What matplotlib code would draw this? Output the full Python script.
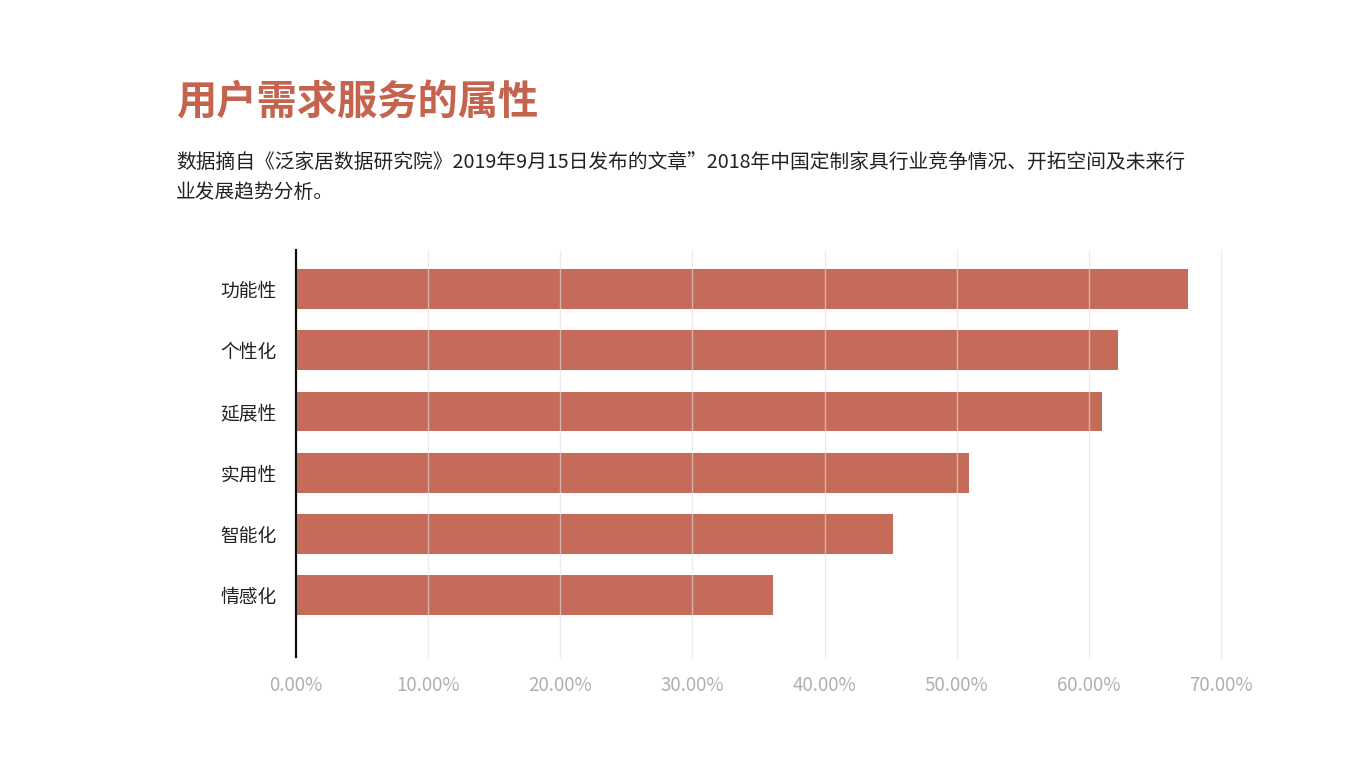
import matplotlib.pyplot as plt
from matplotlib.ticker import PercentFormatter

plt.rcParams['font.family'] = ['Noto Sans CJK SC', 'DejaVu Sans']

categories = ["功能性", "个性化", "延展性", "实用性", "智能化", "情感化"]
values = [0.675, 0.622, 0.610, 0.509, 0.452, 0.361]
xticks = [0, 0.1, 0.2, 0.3, 0.4, 0.5, 0.6, 0.7]

title = "用户需求服务的属性"
subtitle = ("数据摘自《泛家居数据研究院》2019年9月15日发布的文章”2018年中国定制家具行业竞争情况、开拓空间及未来行\n"
            "业发展趋势分析。")

fig = plt.figure(figsize=(13.66, 7.68), dpi=100)
ax = fig.add_axes([296 / 1366, 1 - 657 / 768, (1221 - 296) / 1366, (657 - 250) / 768])

ypos = list(range(len(categories)))[::-1]
ax.barh(ypos, values, height=0.65, color="#c46b59", zorder=1)

ax.set_xlim(0, 0.7)
ax.set_ylim(-1.01, 5.64)
ax.set_xticks(xticks)
ax.xaxis.set_major_formatter(PercentFormatter(1.0, decimals=2))
ax.set_yticks(ypos)
ax.set_yticklabels(categories)

ax.grid(axis="x", color="#e2e2e2", linewidth=1, alpha=0.6, zorder=2)
for gl in ax.get_xgridlines():
    gl.set_clip_on(False)
ax.set_axisbelow(False)
for s in ["top", "right", "bottom"]:
    ax.spines[s].set_visible(False)
ax.spines["left"].set_color("#111111")
ax.spines["left"].set_linewidth(1.6)
ax.spines["left"].set_zorder(3)

ax.tick_params(axis="x", length=0, pad=13, labelsize=13.5, labelcolor="#b0b0b0")
ax.tick_params(axis="y", length=0, pad=14, labelsize=13.5, labelcolor="#222222")

fig.text(176 / 1366, 1 - 103 / 768, title, fontsize=29, fontweight="bold",
         color="#c4644f", va="center", ha="left")
fig.text(176 / 1366, 1 - 153 / 768, subtitle, fontsize=14.2, color="#222222",
         va="top", ha="left", linespacing=1.5)

fig.savefig("out.png", dpi=100)
